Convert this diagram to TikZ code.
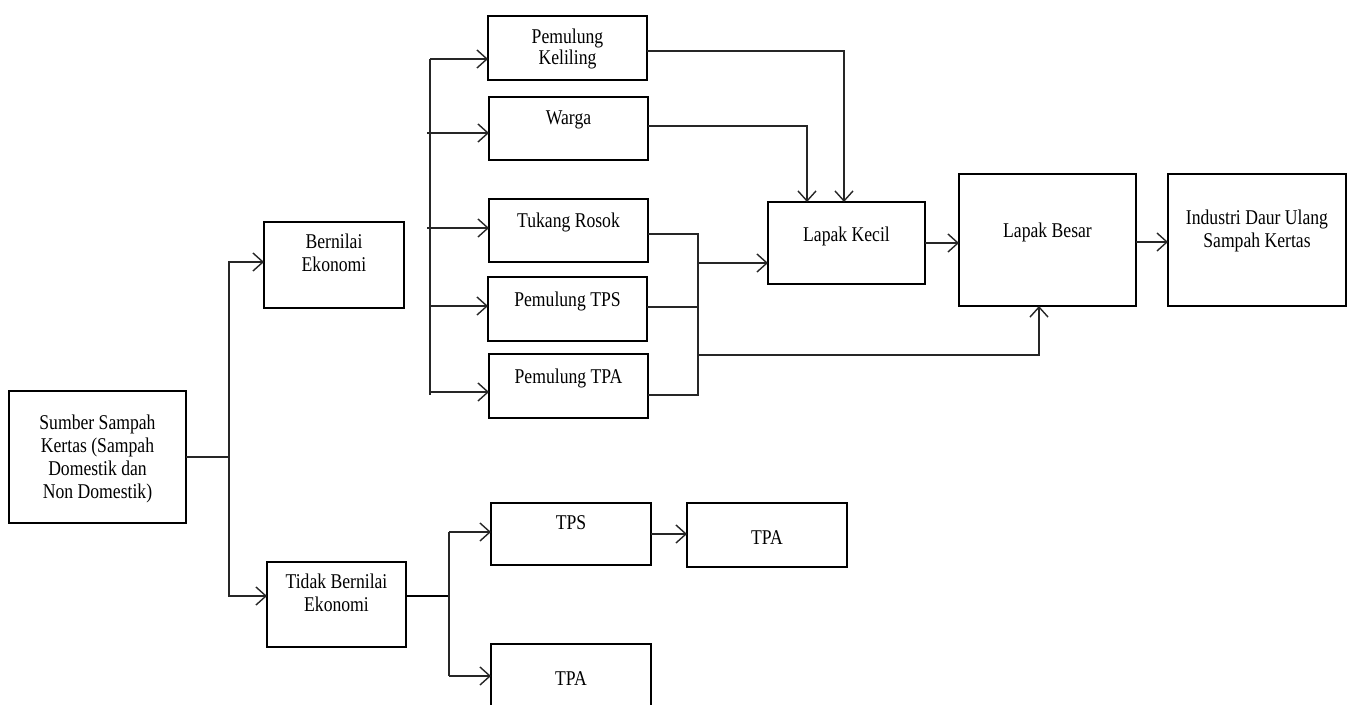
\documentclass[tikz,border=0pt]{standalone}
\usepackage{fontspec}
\setmainfont[FakeStretch=0.84]{Liberation Serif}
\usetikzlibrary{arrows.meta}
\newcommand{\bxt}[4]{\parbox[c][#2pt][t]{#1pt}{\centering\rule{0pt}{#3pt}#4}}
\begin{document}
\begin{tikzpicture}[x=1pt,y=-1pt,
  box/.style={draw,line width=2.7pt,inner sep=0pt,outer sep=0pt,anchor=north west,font=\fontsize{21}{23}\selectfont},
  conn/.style={line width=1.4pt,black!85},
  arr/.style={conn,-{Straight Barb[length=10pt,width=18pt]}}]
\useasboundingbox (0,0) rectangle (1349,704);
\clip (0,0) rectangle (1349,704);
% boxes
\node[box] (sumber) at (9,391) {\bxt{177}{132}{38}{Sumber Sampah\\Kertas (Sampah\\Domestik dan\\Non Domestik)}};
\node[box] (bernilai) at (264,222) {\bxt{140}{86}{26}{Bernilai\\Ekonomi}};
\node[box] (tidak) at (267,562) {\bxt{139}{85}{26}{Tidak Bernilai\\Ekonomi}};
\node[box] (keliling) at (488,16) {\bxt{159}{64}{27}{Pemulung\\[-2pt]Keliling}};
\node[box] (warga) at (489,97) {\bxt{159}{63}{27}{Warga}};
\node[box] (tukang) at (489,199) {\bxt{159}{63}{28}{Tukang Rosok}};
\node[box] (ptps) at (488,277) {\bxt{159}{64}{29}{Pemulung TPS}};
\node[box] (ptpa) at (489,354) {\bxt{159}{64}{29}{Pemulung TPA}};
\node[box] (lkecil) at (768,202) {\bxt{157}{82}{39}{Lapak Kecil}};
\node[box] (lbesar) at (959,174) {\bxt{177}{132}{63}{Lapak Besar}};
\node[box] (industri) at (1168,174) {\bxt{178}{132}{50}{Industri Daur Ulang\\Sampah Kertas}};
\node[box] (tps) at (491,503) {\bxt{160}{62}{26}{TPS}};
\node[box] (tpaa) at (687,503) {\bxt{160}{64}{41}{TPA}};
\node[box] (tpab) at (491,644) {\bxt{160}{64}{41}{TPA}};
% helper coordinates
\coordinate (bx) at (229,0);
\coordinate (vx) at (430,0);
\coordinate (rx) at (698,0);
\coordinate (tx) at (449,0);
% source branch
\coordinate (bA) at ([yshift=3pt]bernilai.west);
\coordinate (bB) at ([yshift=8.5pt]tidak.west);
\draw[arr] (sumber.east) -| (bx |- bA) -- (bA);
\draw[arr] (sumber.east) -| (bx |- bB) -- (bB);
% collectors
\coordinate (kA) at ([yshift=-11pt]keliling.west);
\coordinate (wA) at ([yshift=-4.5pt]warga.west);
\coordinate (tA) at ([yshift=2.5pt]tukang.west);
\coordinate (sA) at ([yshift=3pt]ptps.west);
\coordinate (aA) at ([yshift=-6pt]ptpa.west);
\coordinate (vEnd) at (430,395);
\draw[conn] (vx |- kA) -- (vEnd);
\draw[arr] (vx |- kA) -- (kA);
\draw[arr,shorten <=-3pt] (vx |- wA) -- (wA);
\draw[arr,shorten <=-3pt] (vx |- tA) -- (tA);
\draw[arr] (vx |- sA) -- (sA);
\draw[arr] (vx |- aA) -- (aA);
% to Lapak Kecil from top
\coordinate (kB) at ([yshift=-3pt]keliling.east);
\coordinate (lk1) at ([xshift=-2.5pt]lkecil.north);
\draw[arr] (kB) -| (lk1);
\coordinate (wB) at ([yshift=2.5pt]warga.east);
\coordinate (lk2) at ([xshift=-39.5pt]lkecil.north);
\draw[arr] (wB) -| (lk2);
% merge of tukang / pemulung TPS / TPA
\coordinate (tB) at ([yshift=-3.5pt]tukang.east);
\coordinate (sB) at ([yshift=2pt]ptps.east);
\coordinate (aB) at ([yshift=-9pt]ptpa.east);
\draw[conn] (tB) -| (rx |- aB) -- (aB);
\draw[conn] (sB) -- (rx |- sB);
\coordinate (lkA) at ([yshift=-20pt]lkecil.west);
\draw[arr] (rx |- lkA) -- (lkA);
\coordinate (rj) at (698,355);
\coordinate (lbA) at ([xshift=-8.5pt]lbesar.south);
\draw[arr] (rj) -| (lbA);
% main chain
\draw[arr] (lkecil.east) -- (lkecil.east -| lbesar.west);
\coordinate (lbE) at ([yshift=-2pt]lbesar.east);
\draw[arr] (lbE) -- (lbE -| industri.west);
% non-economic branch
\coordinate (tdE) at ([yshift=8.5pt]tidak.east);
\draw[line width=2.4pt] (tdE) -- (tx |- tdE);
\coordinate (tpsW) at ([yshift=2pt]tps.west);
\draw[conn] (tx |- tpsW) -- (tx |- tpab.west);
\draw[arr] (tx |- tpsW) -- (tpsW);
\draw[arr] (tx |- tpab.west) -- (tpab.west);
\draw[arr] (tps.east) -- (tps.east -| tpaa.west);
\end{tikzpicture}
\end{document}
